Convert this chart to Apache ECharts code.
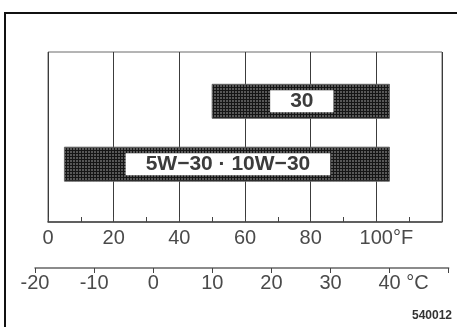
<!DOCTYPE html>
<html>
<head>
<meta charset="utf-8">
<script src="https://cdn.jsdelivr.net/npm/echarts@6/dist/echarts.min.js"></script>
<style>
html,body{margin:0;padding:0;background:#fff;}
#c{width:457px;height:327px;}
</style>
</head>
<body>
<div id="c"></div>
<script>
// ---- data ----
const grades = ['5W\u221230 \u00b7 10W\u221230', '30'];
const lowF = [5, 50];
const highF = [104, 104];
const rowY = [3.4, 7.1];
const barHeight = 2;
const fTicks = [0, 20, 40, 60, 80, 100, 120];
const fLabels = ['0', '20', '40', '60', '80', '100', ''];
const fUnit = '\u00b0F';
const fUnitAt = 100;
const cTicks = [-20, -10, 0, 10, 20, 30, 40, 50];
const cLabels = ['-20', '-10', '0', '10', '20', '30', '40', ''];
const cUnit = ' \u00b0C';
const cUnitAt = 40;
const figId = '540012';

// ---- texture ----
function makePattern() {
  const cv = document.createElement('canvas');
  cv.width = 3; cv.height = 3;
  const g = cv.getContext('2d');
  g.fillStyle = '#585858'; g.fillRect(0, 0, 3, 3);
  g.fillStyle = '#161616'; g.fillRect(0, 0, 3, 1); g.fillRect(0, 0, 1, 3);
  return cv;
}
const pattern = { image: makePattern(), repeat: 'repeat' };

const FONT = 'Liberation Sans, Arial, sans-serif';
const labelRich = {
  p: { width: 20, fontSize: 20, fontFamily: FONT },
  q: { width: 28, fontSize: 20, fontFamily: FONT },
  u: { fontSize: 20, color: '#4a4a4a', fontFamily: FONT }
};

const chart = echarts.init(document.getElementById('c'), null, { renderer: 'canvas' });
chart.setOption({
  animation: false,
  backgroundColor: '#fff',
  grid: [
    { left: 48, right: 15, top: 52, bottom: 105, show: true, borderColor: '#6a6a6a', borderWidth: 1 },
    { left: 35, right: 8.3, top: 260, height: 8 }
  ],
  xAxis: [
    {
      gridIndex: 0, type: 'value', min: fTicks[0], max: fTicks[fTicks.length - 1], interval: 20,
      axisLine: { show: true, lineStyle: { color: '#444', width: 1.5 } },
      axisTick: { show: true, inside: true, length: 5, lineStyle: { color: '#444' } },
      minorTick: { show: true, splitNumber: 2, length: 5, lineStyle: { color: '#444' } },
      splitLine: { show: true, lineStyle: { color: '#3c3c3c', width: 1 } },
      axisLabel: {
        margin: 6, color: '#4a4a4a', fontSize: 20, fontFamily: FONT,
        formatter: function (v) {
          const i = fTicks.indexOf(v);
          const s = i >= 0 ? fLabels[i] : '';
          return v === fUnitAt ? '{p| }' + s + '{u|' + fUnit + '}' : s;
        },
        rich: labelRich
      }
    },
    {
      gridIndex: 1, type: 'value', min: cTicks[0], max: cTicks[cTicks.length - 1], interval: 10,
      axisLine: { show: true, lineStyle: { color: '#666', width: 1.5 } },
      axisTick: { show: true, inside: false, length: 5, lineStyle: { color: '#444' } },
      splitLine: { show: false },
      axisLabel: {
        margin: 5, color: '#4a4a4a', fontSize: 20, fontFamily: FONT, showMaxLabel: true, showMinLabel: true,
        formatter: function (v) {
          const i = cTicks.indexOf(v);
          const s = i >= 0 ? cLabels[i] : '';
          return v === cUnitAt ? '{q| }' + s + '{u|' + cUnit + '}' : s;
        },
        rich: labelRich
      }
    }
  ],
  yAxis: [
    { gridIndex: 0, type: 'value', min: 0, max: 10, show: false },
    { gridIndex: 1, type: 'value', min: 0, max: 1, show: false }
  ],
  series: [
    {
      type: 'custom',
      xAxisIndex: 0, yAxisIndex: 0,
      data: grades.map((g, i) => [lowF[i], highF[i], rowY[i]]),
      encode: { x: [0, 1], y: 2 },
      renderItem: function (params, api) {
        const lo = api.coord([api.value(0), api.value(2)]);
        const hi = api.coord([api.value(1), api.value(2)]);
        const h = api.size([0, barHeight])[1];
        return {
          type: 'group',
          children: [
            {
              type: 'rect',
              shape: { x: lo[0], y: lo[1] - h / 2, width: hi[0] - lo[0], height: h },
              style: { fill: pattern, stroke: '#666', lineWidth: 1 }
            },
            {
              type: 'text',
              x: (lo[0] + hi[0]) / 2 + 1, y: lo[1],
              style: {
                text: grades[params.dataIndex],
                align: 'center', verticalAlign: 'middle',
                fontSize: 21, fontWeight: 'bold', fontFamily: FONT,
                fill: '#3c3c3c',
                backgroundColor: '#fff',
                padding: [1, 20, 1, 20], lineHeight: 20
              }
            }
          ]
        };
      }
    }
  ],
  graphic: [
    {
      type: 'rect', silent: true,
      shape: { x: 5, y: 13, width: 470, height: 340 },
      style: { fill: 'none', stroke: '#111', lineWidth: 2 }
    },
    {
      type: 'text', left: 412, top: 310,
      style: { text: figId, fontSize: 12, fontWeight: 'bold', fontFamily: FONT, fill: '#333' }
    }
  ]
});
</script>
</body>
</html>
